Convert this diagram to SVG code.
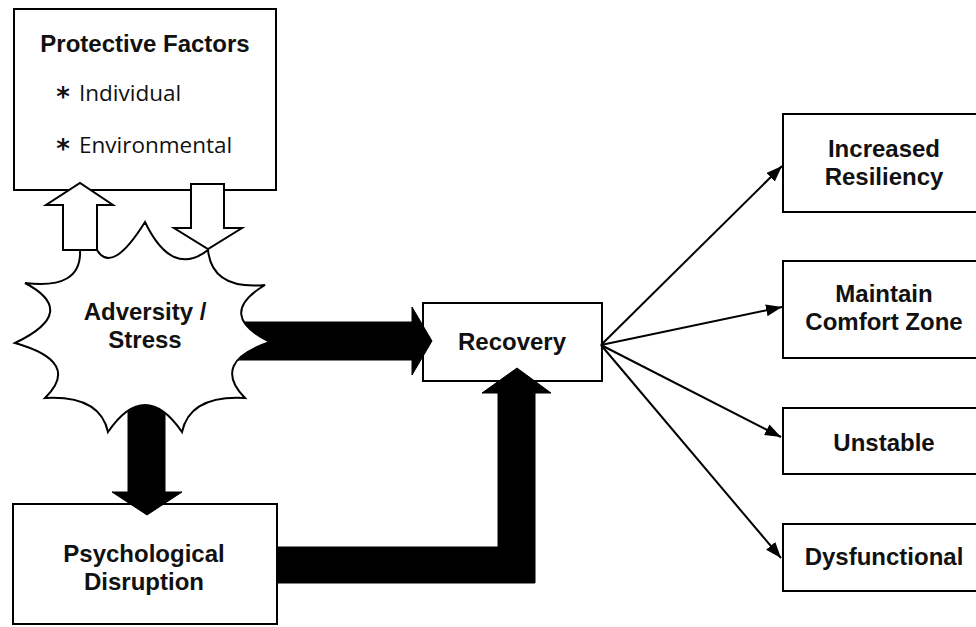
<svg xmlns="http://www.w3.org/2000/svg" width="976" height="627" viewBox="0 0 976 627">
  <defs>
    <marker id="ah" markerWidth="8" markerHeight="6" refX="8" refY="3" orient="auto" markerUnits="strokeWidth">
      <path d="M0,0 L8,3 L0,6 Z" fill="#000"/>
    </marker>
    <style>
      .box { fill: #fff; stroke: #000; stroke-width: 2; }
      .lbl { font-family: "Liberation Sans", Arial, sans-serif; font-weight: 700; font-size: 24px; fill: #111; text-anchor: middle; }
      .item { font-family: "Open Sans", "Liberation Sans", sans-serif; font-size: 22.5px; fill: #111; }
      .ast { font-family: "DejaVu Sans", sans-serif; font-weight: 700; font-size: 26px; fill: #111; text-anchor: middle; }
      .solid { fill: #000; stroke: #000; stroke-width: 1; }
      .hollow { fill: #fff; stroke: #000; stroke-width: 2; stroke-linejoin: miter; }
      .thin { fill: none; stroke: #000; stroke-width: 2; marker-end: url(#ah); }
    </style>
  </defs>
  <rect width="976" height="627" fill="#fff"/>

  <g id="protective-factors">
    <rect class="box" x="14" y="9" width="262" height="181"/>
    <text class="lbl" x="145" y="52" font-size="24.5">Protective Factors</text>
    <text class="ast" x="63" y="106">*</text>
    <text class="item" x="79" y="101">Individual</text>
    <text class="ast" x="63" y="158">*</text>
    <text class="item" x="79" y="153">Environmental</text>
  </g>

  <g id="recovery">
    <rect class="box" x="423" y="303" width="179" height="78"/>
    <text class="lbl" x="512" y="350">Recovery</text>
  </g>

  <g id="psychological-disruption">
    <rect class="box" x="13" y="504" width="264" height="120"/>
    <text class="lbl" x="144" y="562">Psychological</text>
    <text class="lbl" x="144" y="590">Disruption</text>
  </g>

  <g id="increased-resiliency">
    <rect class="box" x="783" y="114" width="205" height="98"/>
    <text class="lbl" x="884" y="157">Increased</text>
    <text class="lbl" x="884" y="185">Resiliency</text>
  </g>

  <g id="maintain-comfort-zone">
    <rect class="box" x="783" y="261" width="205" height="97"/>
    <text class="lbl" x="884" y="302">Maintain</text>
    <text class="lbl" x="884" y="330">Comfort Zone</text>
  </g>

  <g id="unstable">
    <rect class="box" x="783" y="408" width="205" height="66"/>
    <text class="lbl" x="884" y="451">Unstable</text>
  </g>

  <g id="dysfunctional">
    <rect class="box" x="783" y="524" width="205" height="67"/>
    <text class="lbl" x="884" y="565">Dysfunctional</text>
  </g>

  <g id="connectors">
    <path class="solid" d="M200,322 L412,322 L412,307 L432,341 L412,375 L412,360 L200,360 Z"/>
    <path class="solid" d="M128,370 L165,370 L165,492 L182,492 L147,515 L112,492 L128,492 Z"/>
    <path class="solid" d="M277,547 L498,547 L498,393 L482,393 L517,368 L551,393 L535,393 L535,583 L277,583 Z"/>
    <line class="thin" x1="601" y1="345" x2="782" y2="166"/>
    <line class="thin" x1="601" y1="345" x2="782" y2="307"/>
    <line class="thin" x1="601" y1="345" x2="781" y2="437"/>
    <line class="thin" x1="601" y1="345" x2="781" y2="558"/>
  </g>

  <g id="adversity-stress">
    <path fill="#fff" stroke="#000" stroke-width="2" stroke-linejoin="miter"
      d="M97,250 Q112,275 145,222 Q172,278 208,250 Q212,290 265,285 Q215,315 270,342 Q210,362 245,398 Q190,395 182,432 Q145,378 108,432 Q100,395 45,398 Q82,362 15,343 Q80,312 25,283 Q82,290 80,250 Z"/>
    <text class="lbl" x="145" y="320">Adversity /</text>
    <text class="lbl" x="145" y="348">Stress</text>
  </g>

  <g id="feedback-connectors">
    <path class="hollow" d="M63,250 L63,205 L46,205 L80,183 L113,205 L97,205 L97,250 Z"/>
    <path class="hollow" d="M191,184 L224,184 L224,228 L242,228 L208,249 L174,228 L191,228 Z"/>
  </g>
</svg>
